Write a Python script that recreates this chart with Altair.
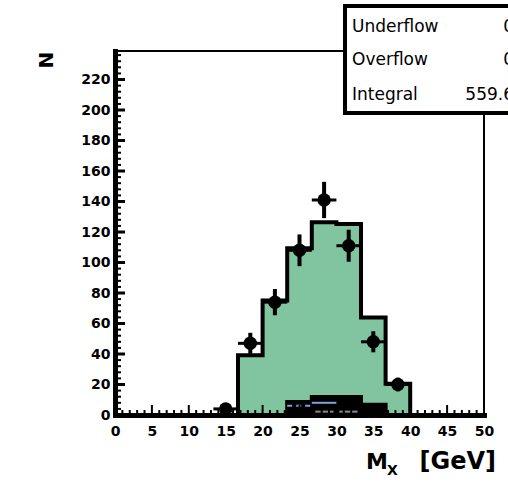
import altair as alt
import numpy as np
import pandas as pd

# Histogram binning: 15 bins over 0-50 GeV
N_BINS = 15
X_MIN, X_MAX = 0.0, 50.0
Y_MAX = 238.7

# Signal Monte Carlo (filled green histogram), counts per bin
mc_counts = [0, 0, 0, 0, 0, 39.2, 75.1, 109.3, 126.4, 125.2, 63.9, 20.5, 0, 0, 0]
# Background sum (black), per bin
bkg_counts = [0, 0, 0, 0, 0, 0, 0, 8.5, 11.8, 11.8, 6.8, 0, 0, 0, 0]
# Individual background components drawn as thin lines
blue_bins = [7, 8]
blue_vals = [6.0, 8.0]
blue_dash = [True, False]
gray_bins = [8, 9]
gray_vals = [2.2, 2.2]

# Observed data points: bin index, count, error
data_bins = [4, 5, 6, 7, 8, 9, 10, 11]
data_vals = [4, 47, 74, 108, 141, 111, 48, 20]
data_errs = [2.0, 6.9, 8.6, 10.4, 11.9, 10.5, 6.9, 4.5]

# Statistics box
stat_names = ["Underflow", "Overflow", "Integral"]
stat_values = ["0", "0", "559.6"]

# Axis ticks
x_major = list(range(0, 51, 5))
x_minor = [v for v in range(0, 51, 1) if v % 5]
y_major = list(range(0, 221, 20))
y_minor = [v for v in range(0, 237, 4) if v % 20]

edges = np.linspace(X_MIN, X_MAX, N_BINS + 1)

W, H = 369, 364

xs = alt.Scale(domain=[X_MIN, X_MAX], nice=False, zero=False)
ys = alt.Scale(domain=[0, Y_MAX], nice=False, zero=True)


def step_frame(counts):
    return pd.DataFrame({
        "x": list(edges[:-1]) + [X_MAX],
        "y": list(counts) + [counts[-1]],
    })


mc_df = step_frame(mc_counts)
bkg_df = step_frame(bkg_counts)

lbl_font = "DejaVu Sans"

x_axis = alt.Axis(values=x_major, title=None, grid=False, ticks=False,
                  labelFont=lbl_font, labelFontWeight="bold", labelFontSize=14,
                  labelColor="black", labelPadding=9, labelFlush=False,
                  domainColor="black", domainWidth=5)
y_axis = alt.Axis(values=y_major, title=None, grid=False, ticks=False,
                  labelFont=lbl_font, labelFontWeight="bold", labelFontSize=14,
                  labelColor="black", labelPadding=5,
                  domainColor="black", domainWidth=5)


def X(field):
    return alt.X(field, scale=xs, axis=x_axis)


def Y(field):
    return alt.Y(field, scale=ys, axis=y_axis)


mc_fill = alt.Chart(mc_df).mark_area(
    interpolate="step-after", color="#80c4a0", opacity=1
).encode(x=X("x:Q"), y=Y("y:Q"))

mc_line = alt.Chart(mc_df).mark_line(
    interpolate="step-after", color="black", strokeWidth=4, strokeJoin="miter"
).encode(x=X("x:Q"), y=Y("y:Q"))

bkg_fill = alt.Chart(bkg_df).mark_area(
    interpolate="step-after", color="black", opacity=1
).encode(x=X("x:Q"), y=Y("y:Q"))
bkg_line = alt.Chart(bkg_df).mark_line(
    interpolate="step-after", color="black", strokeWidth=4
).encode(x=X("x:Q"), y=Y("y:Q"))

blue_df = pd.DataFrame({
    "x": [edges[b] for b in blue_bins],
    "x2": [edges[b + 1] for b in blue_bins],
    "y": blue_vals,
    "dash": blue_dash,
})
blue_dashed = alt.Chart(blue_df[blue_df["dash"]]).mark_rule(
    color="#7f9fdc", strokeWidth=2, strokeDash=[5, 4]
).encode(x=X("x:Q"), x2="x2:Q", y=Y("y:Q"))
blue_solid = alt.Chart(blue_df[~blue_df["dash"]]).mark_rule(
    color="#7f9fdc", strokeWidth=2
).encode(x=X("x:Q"), x2="x2:Q", y=Y("y:Q"))
gray_df = pd.DataFrame({
    "x": [edges[b] + 0.4 for b in gray_bins],
    "x2": [edges[b + 1] - 0.4 for b in gray_bins],
    "y": gray_vals,
})
gray_line = alt.Chart(gray_df).mark_rule(color="#8a8a8a", strokeWidth=2).encode(
    x=X("x:Q"), x2="x2:Q", y=Y("y:Q"))

centers = (edges[:-1] + edges[1:]) / 2
data_df = pd.DataFrame({
    "x": [centers[b] for b in data_bins],
    "xl": [edges[b] for b in data_bins],
    "xh": [edges[b + 1] for b in data_bins],
    "y": data_vals,
    "err": data_errs,
})
data_df["lo"] = data_df["y"] - data_df["err"]
data_df["hi"] = data_df["y"] + data_df["err"]

err_v = alt.Chart(data_df).mark_rule(color="black", strokeWidth=4).encode(
    x=X("x:Q"), y=Y("lo:Q"), y2="hi:Q")
err_h = alt.Chart(data_df).mark_rule(color="black", strokeWidth=3).encode(
    x=X("xl:Q"), x2="xh:Q", y=Y("y:Q"))
points = alt.Chart(data_df).mark_circle(color="black", opacity=1, size=180).encode(
    x=X("x:Q"), y=Y("y:Q"))

# Inward-pointing axis ticks
xmaj = alt.Chart(pd.DataFrame({"v": x_major})).mark_rule(color="black", strokeWidth=2).encode(
    x=X("v:Q"), y=alt.value(H), y2=alt.value(H - 10))
xmin = alt.Chart(pd.DataFrame({"v": x_minor})).mark_rule(color="black", strokeWidth=2).encode(
    x=X("v:Q"), y=alt.value(H), y2=alt.value(H - 5))
ymaj = alt.Chart(pd.DataFrame({"v": y_major})).mark_rule(color="black", strokeWidth=3).encode(
    y=Y("v:Q"), x=alt.value(0), x2=alt.value(10))
ymin = alt.Chart(pd.DataFrame({"v": y_minor})).mark_rule(color="black", strokeWidth=2).encode(
    y=Y("v:Q"), x=alt.value(0), x2=alt.value(6))

# Statistics box
stats_df = pd.DataFrame({"name": stat_names, "value": stat_values})
box = alt.Chart(stats_df.head(1)).mark_rect(
    fill="white", stroke="black", strokeWidth=4
).encode(x=alt.value(230), x2=alt.value(470), y=alt.value(-45), y2=alt.value(62))

row_y = [-19.5, 14, 48.5]
stat_layers = []
for i, nm in enumerate(stat_names):
    sub = stats_df[stats_df["name"] == nm]
    stat_layers.append(alt.Chart(sub).mark_text(
        font=lbl_font, fontSize=17, align="left", baseline="alphabetic", color="black"
    ).encode(text="name:N", x=alt.value(237), y=alt.value(row_y[i])))
    stat_layers.append(alt.Chart(sub).mark_text(
        font=lbl_font, fontSize=17, align="right", baseline="alphabetic", color="black"
    ).encode(text="value:N", x=alt.value(399), y=alt.value(row_y[i])))

# Axis titles
title_df = pd.DataFrame({"t": ["N", "M", "X", "[GeV]"]})
y_title = alt.Chart(title_df[title_df.t == "N"]).mark_text(
    font=lbl_font, fontWeight="bold", fontSize=20, angle=270,
    align="center", baseline="middle", color="black"
).encode(text="t:N", x=alt.value(-68), y=alt.value(9))
x_title_m = alt.Chart(title_df[title_df.t == "M"]).mark_text(
    font=lbl_font, fontWeight="bold", fontSize=22, align="left",
    baseline="alphabetic", color="black"
).encode(text="t:N", x=alt.value(251), y=alt.value(418))
x_title_sub = alt.Chart(title_df[title_df.t == "X"]).mark_text(
    font=lbl_font, fontWeight="bold", fontSize=14, align="left",
    baseline="alphabetic", color="black"
).encode(text="t:N", x=alt.value(272), y=alt.value(424))
x_title_unit = alt.Chart(title_df[title_df.t == "[GeV]"]).mark_text(
    font=lbl_font, fontWeight="bold", fontSize=24, align="right",
    baseline="alphabetic", color="black"
).encode(text="t:N", x=alt.value(381), y=alt.value(418))

chart = alt.layer(
    mc_fill, mc_line, bkg_fill, bkg_line, blue_dashed, blue_solid, gray_line,
    err_v, err_h, points, xmaj, xmin, ymaj, ymin, box, *stat_layers,
    y_title, x_title_m, x_title_sub, x_title_unit,
).properties(
    width=W, height=H,
    autosize=alt.AutoSizeParams(type="none"),
    padding={"left": 115, "top": 51, "right": 24, "bottom": 70},
    background="white",
).configure_view(
    stroke="black", strokeWidth=2
).configure_axis(
    domainCap="square"
)

chart.save("out.html", embed_options={"renderer": "svg", "actions": False})
